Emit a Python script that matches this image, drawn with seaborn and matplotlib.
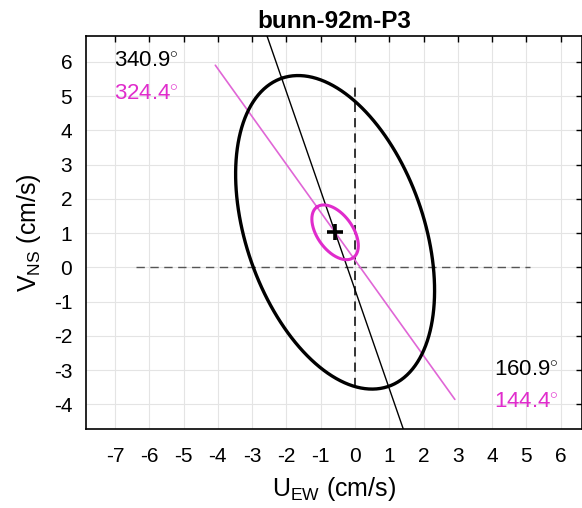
import numpy as np
import pandas as pd
import matplotlib
matplotlib.use("Agg")
import matplotlib.pyplot as plt
import seaborn as sns

# ---- data ----
title = "bunn-92m-P3"
mean_uv = [-0.58, 1.02]                 # mean velocity (cm/s)
var_ellipse = [4.76, 2.59, 340.9]       # semi-major, semi-minor, orientation (deg from N)
mean_ellipse = [0.91, 0.52, 324.4]      # semi-major, semi-minor, orientation (deg from N)
var_axis_half = 7.5                     # half length of the black axis line
mean_axis_half = 6.0                    # half length of the magenta axis line
h_dash = [-6.4, 5.1]                    # horizontal dashed reference (y=0)
v_dash = [-3.5, 5.4]                    # vertical dashed reference (x=0)
x_ticks = [-7, -6, -5, -4, -3, -2, -1, 0, 1, 2, 3, 4, 5, 6]
y_ticks = [-4, -3, -2, -1, 0, 1, 2, 3, 4, 5, 6]
angle_labels_top = ["340.9", "324.4"]
angle_labels_bot = ["160.9", "144.4"]

MAG = "#e02ccc"

sns.set_style("whitegrid")
plt.rcParams["font.family"] = ["Liberation Sans", "DejaVu Sans"]
plt.rcParams["axes.unicode_minus"] = False
plt.rcParams["mathtext.fontset"] = "custom"
plt.rcParams["mathtext.rm"] = "Liberation Sans"
plt.rcParams["mathtext.it"] = "Liberation Sans"
plt.rcParams["text.color"] = "black"
plt.rcParams["axes.labelcolor"] = "black"
plt.rcParams["xtick.color"] = "black"
plt.rcParams["ytick.color"] = "black"

fig = plt.figure(figsize=(5.82, 5.08), dpi=100)
ax = fig.add_axes([0.148, 0.155, 0.852, 0.774])


def ellipse_df(a, b, orient):
    th = np.deg2rad(orient)
    u = np.array([np.sin(th), np.cos(th)])
    v = np.array([np.cos(th), -np.sin(th)])
    t = np.linspace(0, 2 * np.pi, 300)
    pts = np.outer(a * np.cos(t), u) + np.outer(b * np.sin(t), v) + np.array(mean_uv)
    return pd.DataFrame({"x": pts[:, 0], "y": pts[:, 1]})


def axis_df(half, orient):
    th = np.deg2rad(orient)
    u = np.array([np.sin(th), np.cos(th)])
    p0 = np.array(mean_uv) + half * u
    p1 = np.array(mean_uv) - half * u
    return pd.DataFrame({"x": [p0[0], p1[0]], "y": [p0[1], p1[1]]})


kw = dict(ax=ax, sort=False, estimator=None)

# dashed reference lines
sns.lineplot(x=h_dash, y=[0, 0], color="#555555", lw=1.0,
             linestyle=(0, (6, 4)), **kw)
sns.lineplot(x=[0, 0], y=v_dash, color="black", lw=1.1,
             linestyle=(0, (6, 4)), **kw)

# axis lines
d = axis_df(mean_axis_half, mean_ellipse[2])
sns.lineplot(data=d, x="x", y="y", color="#e066d6", lw=1.2, **kw)
d = axis_df(var_axis_half, var_ellipse[2])
sns.lineplot(data=d, x="x", y="y", color="black", lw=1.0, **kw)

# ellipses
d = ellipse_df(*var_ellipse)
sns.lineplot(data=d, x="x", y="y", color="black", lw=2.4, **kw)
d = ellipse_df(*mean_ellipse)
sns.lineplot(data=d, x="x", y="y", color=MAG, lw=2.2, **kw)

# mean marker
ax.plot([mean_uv[0]], [mean_uv[1]], marker="+", color="black", ms=12, mew=2.6)

# angle labels
fs = 16
deg = r"$^{\circ}$"
ax.text(-7.02, 6.0, angle_labels_top[0] + deg, color="black",
        fontsize=fs, ha="left", va="center")
ax.text(-7.02, 5.05, angle_labels_top[1] + deg, color=MAG,
        fontsize=fs, ha="left", va="center")
ax.text(5.95, -3.0, angle_labels_bot[0] + deg, color="black",
        fontsize=fs, ha="right", va="center")
ax.text(5.95, -3.95, angle_labels_bot[1] + deg, color=MAG,
        fontsize=fs, ha="right", va="center")

ax.set_xlim(-7.84, 6.62)
ax.set_ylim(-4.73, 6.75)
ax.set_xticks(x_ticks)
ax.set_yticks(y_ticks)
ax.set_xticklabels([str(t) for t in x_ticks])
ax.set_yticklabels([str(t) for t in y_ticks])
ax.grid(True, color="#e4e4e4", lw=0.8)
ax.set_facecolor("white")
for s in ax.spines.values():
    s.set_visible(True)
    s.set_color("black")
    s.set_linewidth(1.2)
ax.tick_params(direction="in", length=4, width=1, colors="black",
               top=True, right=True, labelsize=15)
ax.tick_params(axis="x", pad=13)
ax.tick_params(axis="y", pad=10)

ax.set_xlabel(r"U$_{\rm EW}$ (cm/s)", fontsize=18, labelpad=6, color="black")
ax.set_ylabel(r"V$_{\rm NS}$ (cm/s)", fontsize=18, labelpad=8, color="black")
ax.set_title(title, fontsize=17.5, fontweight="bold", pad=6, color="black")

fig.savefig("out.png", dpi=100)
